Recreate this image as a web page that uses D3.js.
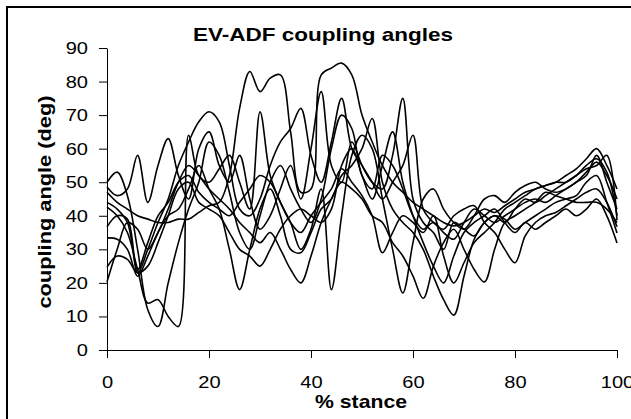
<!DOCTYPE html>
<html>
<head>
<meta charset="utf-8">
<script src="https://cdn.jsdelivr.net/npm/d3@7"></script>
<style>
  body { margin: 0; background: #fff; }
  svg { display: block; font-family: Arial, "Liberation Sans", sans-serif; }
</style>
</head>
<body>
<div id="chart"></div>
<script>
// % stance, sampled every 2 %
const stance = [0,2,4,6,8,10,12,14,16,18,20,22,24,26,28,30,32,34,36,38,40,42,44,46,48,50,
  52,54,56,58,60,62,64,66,68,70,72,74,76,78,80,82,84,86,88,90,92,94,96,98,100];

// coupling angle (deg) per trial
const trial1 = [47,44,42,40,39,38,38,39,39,41,43,44,52,72,83,77,81,82,65,47,48,82,84,85.5,82,70,62,55,50,47,44,42,40,38,37,38,40,42,41,43,45,47,48,49,50,52,54,57,60,55,48];
const trial2 = [50,53,46,30,12,7,20,32,42,50,62,58,47,35,30,40,50,55,48,42,38,45,60,70,66,52,48,58,55,48,40,36,38,35,33,38,42,40,38,40,42,44,45,44,46,48,50,53,56,52,45];
const trial3 = [42.6,40,35,24,14,15,10,7,64,52,50,54,58,50,42,71,52,44,38,30,36,48,18,40,58,64,60,45,30,17,32,45,48,42,38,36,40,45,46,44,47,49,50,48,47,48,50,52,58,50,42];
const trial4 = [48.6,46,48,58,44,55,63,52,45,60,65,55,50,58,45,36,40,48,55,45,60,77,55,50,62,55,50,48,58,75,45,38,35,30,38,36,34,38,40,38,42,45,44,46,48,50,52,54,55,58,38.7];
const trial5 = [36.7,40,39,23,30,38,45,55,62,68,71,68,55,42,40,45,55,62,66,72,58,50,62,75,60,55,50,45,50,55,64,42,38,36,40,42,43,38,35,30,26,34,38,40,41,43,45,47,48,44,36.7];
const trial6 = [33.4,33,30,22,28,35,40,42,48,55,48,42,30,18,30,42,48,40,30,29,35,42,45,52,55,60,69,50,42,38,35,30,22,15,10.4,22,33,38,40,39,36,38,40,42,44,45,46,50,52,44,34.9];
const trial7 = [24.7,28,27,23,25,32,40,48,50,44,42,40,35,30,28,25,30,36,40,42,40,38,42,55,60,52,45,55,65,50,40,32,25,20,28,35,38,40,42,38,35,38,36,38,40,42,40,42,45,40,31.9];
const trial8 = [20.3,30,38,36,30,35,42,50,55,52,48,45,42,38,35,32,35,30,24,20,28,38,45,50,48,45,40,38,32,28,22,15.4,25,32,36,30,24,20.3,30,38,40,42,44,47,46,45,44,44,44,42,38];
const trial9 = [44,42,38,24,32,40,44,50,52,47,44,42,40,44,48,52,50,44,38,35,40,44,48,54,50,46,40,29,35,40,38,35,40,28,20,26,32,35,38,42,44,46,48,49,50,50,52,55,57,53,40];

const trials = [trial1, trial2, trial3, trial4, trial5, trial6, trial7, trial8, trial9];

const xTicks = [0, 20, 40, 60, 80, 100];
const yTicks = [0, 10, 20, 30, 40, 50, 60, 70, 80, 90];

const width = 631, height = 419;
const margin = {top: 48, right: 14, bottom: 69, left: 107};
const innerW = width - margin.left - margin.right;
const innerH = height - margin.top - margin.bottom;

const svg = d3.select("#chart").append("svg")
    .attr("width", width)
    .attr("height", height);

// chart frame (runs off the right/bottom edge like the original)
svg.append("rect")
    .attr("x", 7).attr("y", 7)
    .attr("width", 700).attr("height", 500)
    .attr("fill", "none")
    .attr("stroke", "#000")
    .attr("stroke-width", 2);

const g = svg.append("g")
    .attr("transform", "translate(" + margin.left + "," + margin.top + ")");

const xScale = d3.scaleLinear().domain([0, 100]).range([0, innerW]);
const yScale = d3.scaleLinear().domain([0, 90]).range([innerH, 0]);

// stretch tick text a bit, the original glyphs are wider
function widen(sel, k){
    sel.selectAll("text").each(function(){
        const w = this.getComputedTextLength();
        d3.select(this).attr("textLength", w * k).attr("lengthAdjust", "spacingAndGlyphs");
    });
}

const xAxisG = g.append("g")
    .attr("transform", "translate(0," + innerH + ")")
    .call(d3.axisBottom(xScale).tickValues(xTicks).tickSizeInner(8).tickSizeOuter(0).tickPadding(18));
const yAxisG = g.append("g")
    .call(d3.axisLeft(yScale).tickValues(yTicks).tickSizeInner(8).tickSizeOuter(0).tickPadding(11));

[xAxisG, yAxisG].forEach(ax => {
    ax.select(".domain").attr("stroke", "#000");
    ax.selectAll(".tick line").attr("stroke", "#000");
    ax.selectAll("text").attr("font-size", 17).attr("fill", "#000")
        .attr("font-family", "Arial, 'Liberation Sans', sans-serif");
    widen(ax, 1.18);
});

const line = d3.line()
    .x((d, i) => xScale(stance[i]))
    .y(d => yScale(d))
    .curve(d3.curveCatmullRom.alpha(0.5));

g.selectAll(".trial")
    .data(trials)
    .join("path")
    .attr("class", "trial")
    .attr("d", line)
    .attr("fill", "none")
    .attr("stroke", "#000")
    .attr("stroke-width", 1.6)
    .attr("stroke-linejoin", "round");

// titles
svg.append("text")
    .attr("x", 323).attr("y", 41)
    .attr("text-anchor", "middle")
    .attr("font-size", 19).attr("font-weight", "bold")
    .attr("textLength", 260).attr("lengthAdjust", "spacingAndGlyphs")
    .text("EV-ADF coupling angles");

svg.append("text")
    .attr("x", 361).attr("y", 408)
    .attr("text-anchor", "middle")
    .attr("font-size", 19).attr("font-weight", "bold")
    .attr("textLength", 92).attr("lengthAdjust", "spacingAndGlyphs")
    .text("% stance");

svg.append("text")
    .attr("transform", "translate(51,202) rotate(-90)")
    .attr("text-anchor", "middle")
    .attr("font-size", 19).attr("font-weight", "bold")
    .attr("textLength", 213).attr("lengthAdjust", "spacingAndGlyphs")
    .text("coupling angle (deg)");
</script>
</body>
</html>
